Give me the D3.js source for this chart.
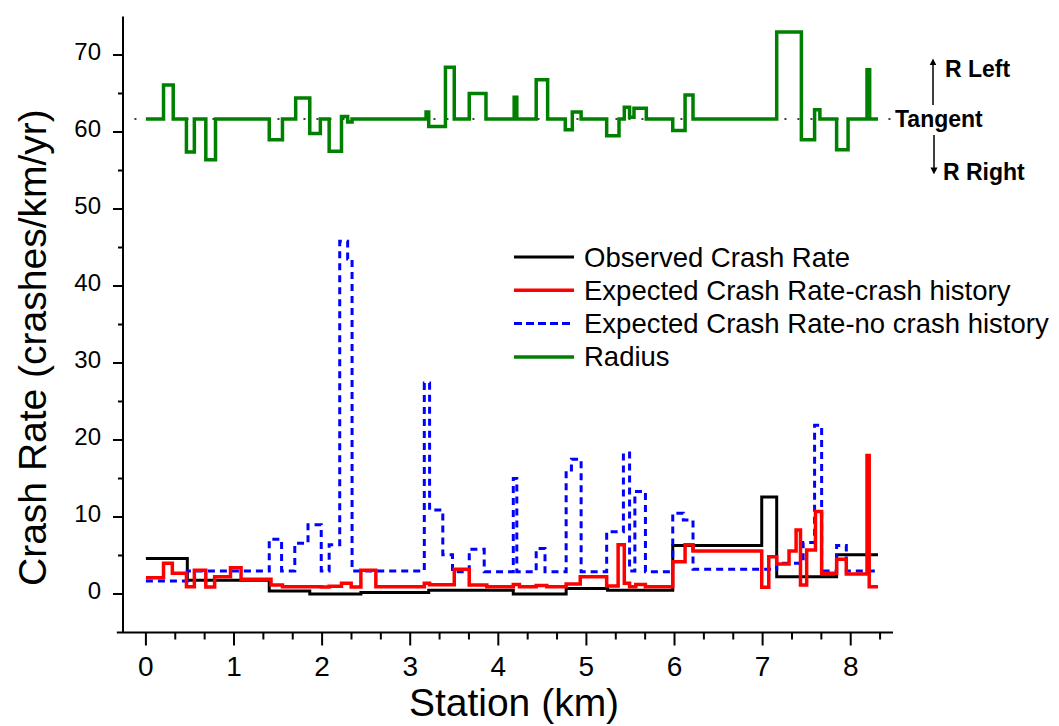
<!DOCTYPE html>
<html lang="en">
<head>
<meta charset="utf-8">
<title>Crash Rate vs Station</title>
<script src="https://cdn.jsdelivr.net/npm/d3@7"></script>
<style>
  html, body { margin: 0; padding: 0; background: white; }
  svg text { font-family: "Liberation Sans", Arial, sans-serif; fill: black; }
</style>
</head>
<body>
<script>
// station where every step series ends (km)
var END_KM = 8.31;

// Observed crash rate (step after each station)
var obsKm  = [0, 0.47, 1.40, 1.86, 2.44, 3.21, 4.17, 4.77, 5.24, 5.98, 6.99, 7.16, 7.84];
var obsVal = [4.6, 1.8, 0.4, 0.0, 0.2, 0.5, 0.0, 0.7, 0.5, 6.3, 12.6, 2.25, 5.1];

// Expected crash rate - with crash history
var histKm  = [0, 0.20, 0.30, 0.46, 0.55, 0.68, 0.78, 0.96, 1.08, 1.42, 1.55, 1.99, 2.08, 2.22, 2.33, 2.44, 2.61,
               3.16, 3.22, 3.50, 3.67, 3.87, 4.17, 4.24, 4.43, 4.55, 4.77, 4.93, 5.23, 5.36, 5.43, 5.49, 5.56, 5.67,
               5.98, 6.12, 6.21, 6.99, 7.07, 7.16, 7.30, 7.38, 7.43, 7.50, 7.60, 7.67, 7.84, 7.95, 8.185, 8.21];
var histVal = [2.1, 4.0, 2.7, 0.95, 3.1, 0.9, 2.25, 3.4, 1.9, 1.17, 0.95, 0.9, 1.0, 1.4, 0.9, 3.1, 0.95,
               1.4, 1.2, 3.2, 1.17, 0.95, 1.25, 0.95, 1.1, 0.95, 1.3, 2.25, 1.05, 6.4, 1.4, 0.95, 1.25, 0.95,
               4.2, 6.4, 5.6, 0.87, 4.85, 3.9, 5.6, 8.3, 1.17, 5.7, 10.7, 2.7, 4.5, 2.6, 18.0, 0.95];

// Expected crash rate - no crash history
var noHistKm  = [0, 0.47, 1.40, 1.54, 1.69, 1.84, 1.99, 2.08, 2.20, 2.29, 2.34, 3.16, 3.22, 3.37, 3.48, 3.67, 3.84,
                 4.17, 4.21, 4.43, 4.53, 4.77, 4.83, 4.94, 5.23, 5.42, 5.49, 5.55, 5.67, 5.98, 6.10, 6.21,
                 7.16, 7.46, 7.59, 7.67, 7.84, 7.95];
var noHistVal = [1.7, 3.0, 7.1, 3.0, 6.6, 9.0, 3.0, 6.4, 45.8, 43.5, 3.0, 27.4, 10.9, 5.1, 2.9, 5.8, 2.9,
                 15.0, 2.9, 5.9, 2.9, 16.1, 17.5, 2.9, 8.1, 18.3, 3.0, 13.3, 2.9, 10.5, 9.6, 3.2,
                 4.0, 6.7, 21.9, 3.0, 6.3, 3.0];

// Radius (plotted around the tangent level)
var TANGENT = 61.7;
var radKm  = [0, 0.20, 0.31, 0.46, 0.55, 0.68, 0.79, 1.40, 1.55, 1.70, 1.86, 1.98, 2.08, 2.22, 2.29, 2.34,
              3.18, 3.21, 3.40, 3.50, 3.67, 3.86, 4.18, 4.21, 4.43, 4.56, 4.76, 4.84, 4.94, 5.23, 5.37,
              5.43, 5.49, 5.54, 5.68, 5.98, 6.12, 6.21, 7.16, 7.44, 7.59, 7.65, 7.84, 7.97, 8.185, 8.215];
var radVal = [61.7, 66.1, 61.7, 57.4, 61.7, 56.4, 61.7, 59.0, 61.7, 64.4, 59.8, 61.7, 57.5, 62.0, 61.3, 61.7,
              62.6, 60.7, 68.4, 61.7, 65.0, 61.7, 64.5, 61.7, 66.8, 61.7, 60.3, 62.6, 61.7, 59.5, 61.7,
              63.2, 61.9, 63.1, 61.7, 60.2, 64.8, 61.7, 73.0, 59.0, 62.9, 61.7, 57.7, 61.7, 68.1, 61.7];

var xMajor = [0, 1, 2, 3, 4, 5, 6, 7, 8];
var yMajor = [0, 10, 20, 30, 40, 50, 60, 70];

var legendNames = ["Observed Crash Rate", "Expected Crash Rate-crash history",
                   "Expected Crash Rate-no crash history", "Radius"];

//Width and height
var w = 1059;
var h = 726;

var x = d3.scaleLinear().domain([-0.26, 8.48]).range([123, 893]);
var y = d3.scaleLinear().domain([-5, 75]).range([632.5, 16.5]);

var svg = d3.select("body").append("svg")
            .attr("width", w)
            .attr("height", h);

//x minor ticks at thirds of a km
var xMinor = d3.range(1, 26).map(function(i) { return i / 3; })
               .filter(function(v) { return Math.abs(v - Math.round(v)) > 0.01; });
var yMinor = d3.range(5, 70, 10);

//x axis
var xAxis = svg.append("g").attr("transform", "translate(0," + y(-5) + ")");
xAxis.append("line")
     .attr("x1", x(-0.33)).attr("x2", x(8.48))
     .attr("stroke", "black").attr("stroke-width", 2);
xAxis.selectAll("line.maj").data(xMajor).enter().append("line")
     .attr("class", "maj")
     .attr("x1", function(d) { return x(d); }).attr("x2", function(d) { return x(d); })
     .attr("y1", 0).attr("y2", 13)
     .attr("stroke", "black").attr("stroke-width", 2);
xAxis.selectAll("line.min").data(xMinor).enter().append("line")
     .attr("class", "min")
     .attr("x1", function(d) { return x(d); }).attr("x2", function(d) { return x(d); })
     .attr("y1", 0).attr("y2", 7)
     .attr("stroke", "black").attr("stroke-width", 2);
xAxis.selectAll("text").data(xMajor).enter().append("text")
     .attr("x", function(d) { return x(d); })
     .attr("y", 43.5)
     .attr("text-anchor", "middle")
     .attr("font-size", "28px")
     .text(function(d) { return d; });

//y axis
var yAxis = svg.append("g").attr("transform", "translate(" + x(-0.26) + ",0)");
yAxis.append("line")
     .attr("y1", y(-5)).attr("y2", y(75))
     .attr("stroke", "black").attr("stroke-width", 2);
yAxis.selectAll("line.maj").data(yMajor).enter().append("line")
     .attr("class", "maj")
     .attr("y1", function(d) { return y(d); }).attr("y2", function(d) { return y(d); })
     .attr("x1", 0).attr("x2", -10)
     .attr("stroke", "black").attr("stroke-width", 2);
yAxis.selectAll("line.min").data(yMinor).enter().append("line")
     .attr("class", "min")
     .attr("y1", function(d) { return y(d); }).attr("y2", function(d) { return y(d); })
     .attr("x1", 0).attr("x2", -5)
     .attr("stroke", "black").attr("stroke-width", 2);
yAxis.selectAll("text").data(yMajor).enter().append("text")
     .attr("x", -22)
     .attr("y", function(d) { return y(d) + 5; })
     .attr("text-anchor", "end")
     .attr("font-size", "24px")
     .text(function(d) { return d; });

//axis titles
svg.append("text")
   .attr("x", 514).attr("y", 716)
   .attr("text-anchor", "middle")
   .attr("font-size", "39px")
   .text("Station (km)");

svg.append("text")
   .attr("transform", "translate(46," + y(32) + ") rotate(-90)")
   .attr("text-anchor", "middle")
   .attr("font-size", "39px")
   .text("Crash Rate (crashes/km/yr)");

//step line builder
var line = d3.line()
             .x(function(d) { return x(d[0]); })
             .y(function(d) { return y(d[1]); })
             .curve(d3.curveStepAfter);

function steps(km, vals) {
    var pts = km.map(function(k, i) { return [k, vals[i]]; });
    pts.push([END_KM, vals[vals.length - 1]]);
    return pts;
}

//tangent reference line
svg.append("line")
   .attr("x1", x(-0.13)).attr("x2", x(8.47))
   .attr("y1", y(TANGENT)).attr("y2", y(TANGENT))
   .attr("stroke", "black").attr("stroke-width", 1.5)
   .attr("stroke-dasharray", "2,11");

var series = [
    { km: obsKm,    vals: obsVal,    color: "black",   width: 3,   dash: null },
    { km: noHistKm, vals: noHistVal, color: "#0000ff", width: 3,   dash: "7,5" },
    { km: histKm,   vals: histVal,   color: "#ff0000", width: 3.5, dash: null },
    { km: radKm,    vals: radVal,    color: "#008000", width: 3.5, dash: null }
];

series.forEach(function(s) {
    svg.append("path")
       .attr("d", line(steps(s.km, s.vals)))
       .attr("fill", "none")
       .attr("stroke", s.color)
       .attr("stroke-width", s.width)
       .attr("stroke-dasharray", s.dash);
});

//legend
var legendOrder = [series[0], series[2], series[1], series[3]];
var legend = svg.append("g");
legendOrder.forEach(function(s, i) {
    var ly = 257 + i * 33.3;
    legend.append("line")
          .attr("x1", 514).attr("x2", 574)
          .attr("y1", ly).attr("y2", ly)
          .attr("stroke", s.color)
          .attr("stroke-width", s.width)
          .attr("stroke-dasharray", s.dash ? "8,4" : null);
    legend.append("text")
          .attr("x", 584).attr("y", ly + 9.5)
          .attr("font-size", "27.5px")
          .text(legendNames[i]);
});

//arrow heads
svg.append("defs").append("marker")
   .attr("id", "head")
   .attr("viewBox", "0 0 10 10")
   .attr("refX", 5).attr("refY", 5)
   .attr("markerWidth", 7).attr("markerHeight", 13)
   .attr("markerUnits", "userSpaceOnUse")
   .attr("orient", "auto")
   .append("path")
   .attr("d", "M0,0 L10,5 L0,10 Z")
   .attr("fill", "black");

var ty = y(TANGENT);
svg.append("line")
   .attr("x1", 933).attr("x2", 933)
   .attr("y1", ty - 14).attr("y2", ty - 57)
   .attr("stroke", "black").attr("stroke-width", 1.5)
   .attr("marker-end", "url(#head)");
svg.append("line")
   .attr("x1", 934).attr("x2", 934)
   .attr("y1", ty + 16).attr("y2", ty + 52)
   .attr("stroke", "black").attr("stroke-width", 1.5)
   .attr("marker-end", "url(#head)");

svg.append("text")
   .attr("x", 945).attr("y", ty - 42)
   .attr("font-size", "23px").attr("font-weight", "bold")
   .text("R Left");
svg.append("text")
   .attr("x", 895).attr("y", ty + 8)
   .attr("font-size", "23px").attr("font-weight", "bold")
   .text("Tangent");
svg.append("text")
   .attr("x", 943).attr("y", ty + 61)
   .attr("font-size", "23px").attr("font-weight", "bold")
   .text("R Right");
</script>
</body>
</html>
